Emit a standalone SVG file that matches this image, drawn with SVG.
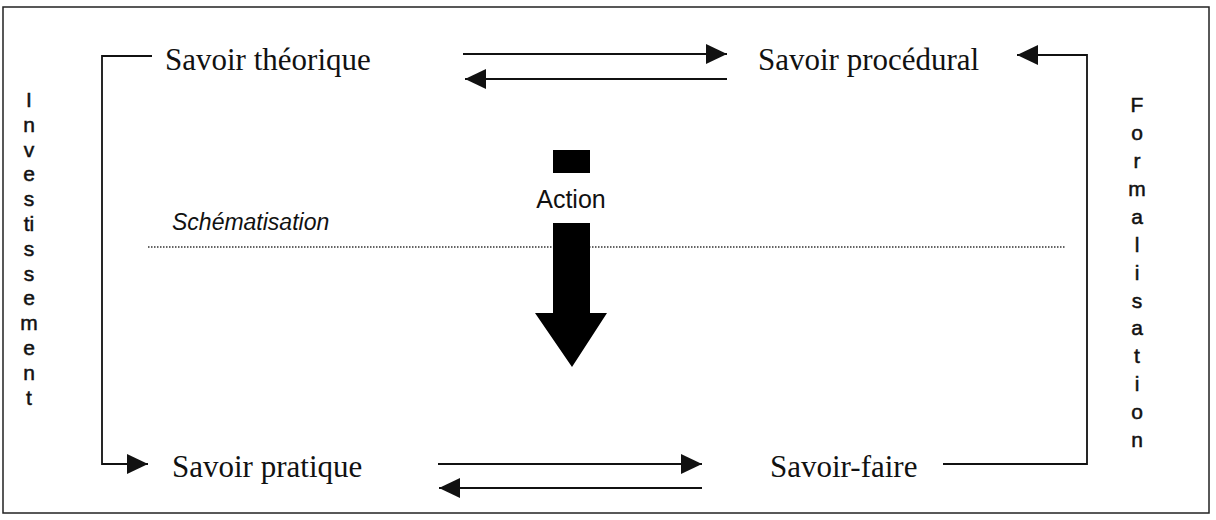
<svg xmlns="http://www.w3.org/2000/svg" width="1216" height="520" viewBox="0 0 1216 520">
<style>
.node{font-family:"Liberation Serif","Times New Roman",serif;font-size:31px;fill:#111}
.side{font-family:"Liberation Sans",Arial,sans-serif;font-size:21px;fill:#111;stroke:#111;stroke-width:0.5;text-anchor:middle}
.conn{fill:none;stroke:#111;stroke-width:1.8}
.dot{fill:none;stroke:#333;stroke-width:1.3;stroke-dasharray:1.5 1.5}
.lbl{font-family:"Liberation Sans",Arial,sans-serif;fill:#111}
</style>
<defs>
<marker id="ah" markerUnits="userSpaceOnUse" markerWidth="21" markerHeight="20" viewBox="0 0 21 20" refX="21" refY="10" orient="auto">
<path d="M0,0 L21,10 L0,20 Z" fill="#111"/>
</marker>
</defs>
<rect x="3" y="7" width="1206" height="506" fill="#fff" stroke="#222" stroke-width="1.5"/>
<g id="connectors">
<polyline class="conn" points="152,56 102,56 102,464 148,464" marker-end="url(#ah)"/>
<line class="conn" x1="463" y1="54" x2="727" y2="54" marker-end="url(#ah)"/>
<line class="conn" x1="727" y1="79" x2="465" y2="79" marker-end="url(#ah)"/>
<polyline class="conn" points="943,464 1087,464 1087,55 1017,55" marker-end="url(#ah)"/>
<line class="conn" x1="438" y1="464" x2="702" y2="464" marker-end="url(#ah)"/>
<line class="conn" x1="702" y1="488" x2="439" y2="488" marker-end="url(#ah)"/>
</g>
<g id="schematisation">
<line class="dot" x1="148" y1="247" x2="1065" y2="247"/>
<text class="lbl" x="172" y="230" font-size="23" font-style="italic">Schématisation</text>
</g>
<g id="action">
<rect x="553" y="150" width="37" height="23" fill="#000"/>
<text class="lbl" x="571" y="208" font-size="25" text-anchor="middle">Action</text>
<polygon points="553,223 590,223 590,313 607,313 572,367 535,313 553,313" fill="#000"/>
</g>
<g id="savoir-theorique"><text class="node" x="165" y="70">Savoir théorique</text></g>
<g id="savoir-procedural"><text class="node" x="758" y="70">Savoir procédural</text></g>
<g id="savoir-pratique"><text class="node" x="172" y="477">Savoir pratique</text></g>
<g id="savoir-faire"><text class="node" x="770" y="477">Savoir-faire</text></g>
<g id="investissement">
<text class="side" x="29" y="107">I</text>
<text class="side" x="29" y="132">n</text>
<text class="side" x="29" y="157">v</text>
<text class="side" x="29" y="181">e</text>
<text class="side" x="29" y="206">s</text>
<text class="side" x="29" y="231">ti</text>
<text class="side" x="29" y="256">s</text>
<text class="side" x="29" y="281">s</text>
<text class="side" x="29" y="305">e</text>
<text class="side" x="29" y="330">m</text>
<text class="side" x="29" y="355">e</text>
<text class="side" x="29" y="380">n</text>
<text class="side" x="29" y="405">t</text>
</g>
<g id="formalisation">
<text class="side" x="1137" y="112">F</text>
<text class="side" x="1137" y="140">o</text>
<text class="side" x="1137" y="168">r</text>
<text class="side" x="1137" y="196">m</text>
<text class="side" x="1137" y="224">a</text>
<text class="side" x="1137" y="252">l</text>
<text class="side" x="1137" y="280">i</text>
<text class="side" x="1137" y="308">s</text>
<text class="side" x="1137" y="335">a</text>
<text class="side" x="1137" y="363">t</text>
<text class="side" x="1137" y="391">i</text>
<text class="side" x="1137" y="419">o</text>
<text class="side" x="1137" y="447">n</text>
</g>
</svg>
